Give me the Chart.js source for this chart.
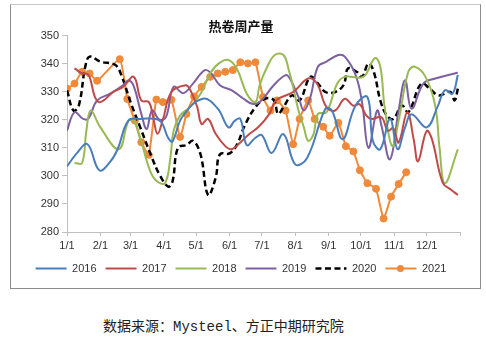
<!DOCTYPE html>
<html>
<head>
<meta charset="utf-8">
<script src="https://cdn.jsdelivr.net/npm/chart.js@4"></script>
<style>
  body { margin: 0; background: #fff; width: 486px; height: 337px; position: relative; overflow: hidden; }
  #frame { position: absolute; left: 10px; top: 4px; width: 469px; height: 283px; border: 1px solid #8c8c8c; border-top-color: #c8c8c8; }
  #wrap { position: absolute; left: 22px; top: 4px; width: 458px; height: 284px; }
  #source { position: absolute; left: 103px; top: 315px; font-size: 14px; color: #222;
            font-family: "Liberation Mono", "Noto Sans CJK SC", monospace; white-space: nowrap; }
</style>
</head>
<body>
<div id="frame"></div>
<div id="wrap"><canvas id="c" width="458" height="284"></canvas></div>
<div id="source">数据来源：Mysteel、方正中期研究院</div>
<script>
// month ticks (day of year)
const monthDays   = [0, 31, 59, 90, 120, 151, 181, 212, 243, 273, 304, 334, 365];
const monthLabels = ['1/1', '2/1', '3/1', '4/1', '5/1', '6/1', '7/1', '8/1', '9/1', '10/1', '11/1', '12/1', ''];

// weekly output (x = day of year)
const days2016 = [0, 9, 19, 30, 40, 47, 57, 68, 86, 94, 98, 107, 126, 140, 150, 156, 161, 167, 175, 181, 190, 201, 212, 223, 240, 246, 256, 268, 279, 284, 291, 300, 307, 314, 320, 334, 344, 351, 358, 363];
const vals2016 = [303.4, 308, 311.3, 302, 305, 309.5, 319.7, 320.3, 319.7, 313.5, 312.3, 321, 327.5, 324, 317.3, 319.7, 320.3, 311, 313.6, 314.5, 308.2, 314.9, 304.1, 306.4, 323.9, 323.3, 313.1, 325.1, 328.1, 312.5, 309.5, 320.3, 309.5, 317.3, 322, 317.3, 324.5, 330.5, 329.3, 336];

const days2017 = [7, 14, 20, 26, 31, 43, 52, 62, 69, 76, 80, 84, 89, 97, 110, 114, 121, 125, 131, 138, 147, 153, 161, 168, 178, 188, 194, 210, 224, 232, 241, 249, 258, 266, 272, 278, 283, 292, 298, 303, 308, 316, 322, 326, 334, 339, 349, 357, 363];
const vals2017 = [338.3, 336.5, 336, 328.1, 326.3, 329.9, 331.7, 335.3, 326.9, 326.3, 320.9, 315, 320, 329.9, 332.3, 331, 324.5, 318.5, 320.3, 315, 310.6, 309.5, 311.9, 314.5, 317.5, 322.1, 326.9, 329.9, 334.7, 333, 324.5, 323.3, 327.5, 325, 325.5, 321.5, 320.3, 320.9, 316.1, 317, 311.9, 322.7, 313, 305.2, 316, 313, 297.5, 295, 293.2];

const days2018 = [7, 14, 18, 22, 31, 48, 57, 62, 68, 77, 83, 91, 96, 99, 105, 114, 124, 133, 141, 150, 158, 167, 175, 179, 186, 193, 201, 206, 210, 215, 220, 224, 229, 233, 241, 251, 258, 272, 277, 286, 291, 295, 302, 308, 317, 323, 333, 342, 346, 351, 363];
const vals2018 = [304.6, 304.6, 316.1, 323.3, 317.3, 309.5, 319.5, 319.7, 313.5, 302, 298.3, 297.4, 306.4, 316.1, 321.5, 324.5, 329.3, 336.5, 340.1, 341.3, 338, 329.3, 326.3, 332.5, 338.9, 343.1, 343.1, 337.7, 331.7, 323.3, 317.3, 312.5, 314.9, 322.1, 322.7, 332.9, 335.3, 335, 335.8, 342, 338.9, 324.5, 310.6, 319.7, 337.1, 338.9, 335.3, 325, 310, 297.4, 309.5];

const days2019 = [0, 7, 15, 20, 28, 40, 52, 57, 62, 69, 74, 79, 86, 92, 99, 108, 117, 128, 134, 142, 153, 164, 172, 179, 192, 203, 207, 215, 220, 226, 233, 241, 252, 258, 268, 274, 280, 288, 292, 300, 308, 314, 320, 331, 342, 360, 363];
const vals2019 = [316.1, 322.7, 320.3, 320.5, 326.9, 329.3, 332.3, 334.1, 332, 322.1, 316.7, 323.3, 320, 321, 331.7, 329.5, 332.9, 337.7, 336.5, 332.3, 330.5, 327.5, 325.7, 326.3, 332.3, 335.9, 334.7, 328.1, 323.3, 328, 338.9, 340.7, 343.1, 342.5, 336, 326.3, 310, 323.3, 318, 305.9, 323.3, 334.1, 323.9, 332.9, 334.7, 336.5, 336.8];

const days2020 = [0, 6, 11, 17, 21, 31, 45, 51, 59, 68, 79, 86, 94, 98, 103, 111, 117, 124, 131, 138, 142, 151, 158, 165, 175, 184, 192, 196, 201, 209, 216, 226, 233, 240, 249, 257, 261, 269, 274, 280, 285, 291, 297, 303, 311, 317, 329, 337, 345, 356, 360, 363];
const vals2020 = [330.5, 323.3, 325.1, 339, 342.5, 340.7, 339.5, 335.3, 326.3, 317.3, 306.4, 300.4, 296.2, 298, 310, 311, 312.5, 307.7, 293.2, 299.2, 307.7, 308, 311.3, 317.9, 324.5, 327.5, 327, 322.1, 324.5, 328.7, 326.9, 335.3, 333, 329.9, 329.9, 332.5, 338.3, 337.1, 335.3, 340.1, 337, 326.9, 321.5, 320.3, 325.1, 322.7, 332.9, 331.1, 328.7, 329.9, 326.9, 331.1];

const days2021 = [0, 7, 14, 21, 28, 49, 56, 63, 69, 76, 83, 89, 97, 105, 111, 118, 125, 133, 140, 147, 154, 161, 168, 175, 182, 189, 195, 203, 210, 216, 224, 230, 238, 244, 252, 259, 266, 272, 279, 287, 294, 301, 308, 315];
const vals2021 = [331.1, 332.9, 337.1, 336.5, 333.9, 341.6, 327.4, 319.7, 312, 307.5, 327.2, 326.3, 327.1, 313.9, 322.1, 328.3, 331.7, 335.3, 336.5, 337.1, 337.7, 340.5, 340.1, 340.5, 328.1, 323.3, 326.9, 323.3, 311.3, 320.3, 326.9, 320.3, 317.5, 314.3, 318.9, 310.6, 308.7, 302, 297.4, 295.4, 284.8, 292.6, 297.1, 301.3];

const pts = (d, v) => d.map((x, i) => ({ x: x, y: v[i] }));

function line(label, d, v, color, extra) {
  return Object.assign({
    label: label,
    data: pts(d, v),
    showLine: true,
    borderColor: color,
    backgroundColor: color,
    borderWidth: 2,
    pointRadius: 0,
    tension: 0.4
  }, extra || {});
}

const orange = '#F08A3A';

// little circle on the 2021 legend line
const legendMarker = {
  id: 'legendMarker',
  afterDraw(chart) {
    const box = chart.legend.legendHitBoxes[5];
    if (!box) return;
    const ctx = chart.ctx;
    ctx.save();
    ctx.fillStyle = orange;
    ctx.beginPath();
    ctx.arc(box.left + 15, box.top + box.height / 2, 3.5, 0, Math.PI * 2);
    ctx.fill();
    ctx.restore();
  }
};

const tickFont = { family: 'Liberation Sans, Arial, sans-serif', size: 11 };

new Chart(document.getElementById('c'), {
  type: 'line',
  data: {
    datasets: [
      line('2016', days2016, vals2016, '#4A7EBB'),
      line('2017', days2017, vals2017, '#BE4B48'),
      line('2018', days2018, vals2018, '#98B954'),
      line('2019', days2019, vals2019, '#7D60A0'),
      line('2020', days2020, vals2020, '#000000', { borderWidth: 2.5, borderDash: [6, 3.5] }),
      line('2021', days2021, vals2021, orange, {
        tension: 0.15, pointRadius: 3.5,
        pointBackgroundColor: orange, pointBorderColor: orange, pointBorderWidth: 1
      })
    ]
  },
  options: {
    responsive: false,
    animation: false,
    layout: { padding: { left: 0, right: 20, top: 0, bottom: 4 } },
    plugins: {
      title: {
        display: true,
        text: '热卷周产量',
        color: '#111',
        font: { family: 'Noto Sans CJK SC', size: 13, weight: 'bold' },
        padding: { top: 14, bottom: 2 }
      },
      legend: {
        position: 'bottom',
        labels: {
          usePointStyle: true,
          pointStyle: 'line',
          pointStyleWidth: 31,
          padding: 9,
          color: '#333',
          font: tickFont,
          generateLabels: chart => {
            const items = Chart.defaults.plugins.legend.labels.generateLabels(chart);
            items.forEach(it => {
              const ds = chart.data.datasets[it.datasetIndex];
              it.lineWidth = ds.borderWidth;
              it.strokeStyle = ds.borderColor;
              it.lineDash = ds.borderDash || [];
              it.pointStyle = 'line';
            });
            return items;
          }
        }
      },
      tooltip: { enabled: false }
    },
    scales: {
      x: {
        type: 'linear',
        min: 0,
        max: 365,
        afterBuildTicks: s => { s.ticks = monthDays.map(v => ({ value: v })); },
        afterFit: s => { s.height = 22; },
        ticks: {
          autoSkip: false,
          maxRotation: 0,
          padding: 3,
          color: '#333',
          font: tickFont,
          callback: v => monthLabels[monthDays.indexOf(v)]
        },
        grid: { drawOnChartArea: false, tickLength: 4, color: '#bfbfbf' },
        border: { color: '#bfbfbf' }
      },
      y: {
        min: 280,
        max: 350,
        afterFit: s => { s.width = 45; },
        ticks: { stepSize: 10, padding: 3, color: '#333', font: tickFont },
        grid: { drawOnChartArea: false, tickLength: 5, color: '#bfbfbf' },
        border: { color: '#bfbfbf' }
      }
    }
  },
  plugins: [legendMarker]
});
</script>
</body>
</html>
